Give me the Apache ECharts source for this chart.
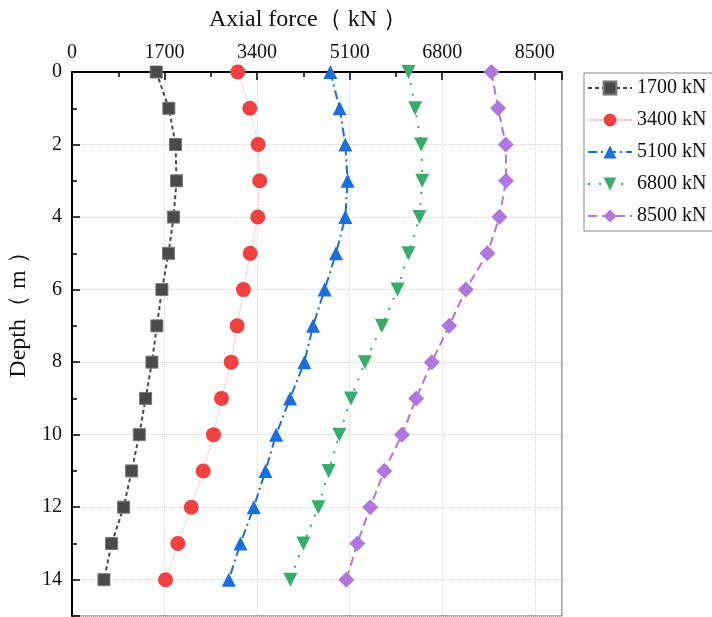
<!DOCTYPE html>
<html>
<head>
<meta charset="utf-8">
<script src="https://cdn.jsdelivr.net/npm/echarts@6/dist/echarts.min.js"></script>
<style>
  html, body { margin: 0; padding: 0; background: #fff; }
  #myChart { width: 712px; height: 617px; }
</style>
</head>
<body>
<div id="myChart"></div>
<script>
// 深度 (m)
const depth = [0, 1, 2, 3, 4, 5, 6, 7, 8, 9, 10, 11, 12, 13, 14];
// 各级荷载下的轴力 (kN)
const load1700 = [1548, 1779, 1902, 1920, 1865, 1773, 1651, 1559, 1468, 1352, 1236, 1095, 948, 728, 587];
const load3400 = [3045, 3265, 3418, 3448, 3412, 3272, 3149, 3033, 2923, 2745, 2599, 2410, 2190, 1944, 1718];
const load5100 = [4745, 4915, 5020, 5062, 5020, 4849, 4640, 4428, 4268, 4005, 3748, 3553, 3338, 3094, 2879];
const load6800 = [6181, 6304, 6414, 6432, 6383, 6181, 5979, 5693, 5381, 5124, 4910, 4713, 4525, 4250, 4011];
const load8500 = [7703, 7826, 7967, 7972, 7850, 7630, 7233, 6927, 6608, 6322, 6060, 5735, 5478, 5240, 5038];
const seriesNames = ['1700 kN', '3400 kN', '5100 kN', '6800 kN', '8500 kN'];
const xTicks = [0, 1700, 3400, 5100, 6800, 8500];

const FONT = '"Liberation Serif", "DejaVu Serif", serif';

const pairs = (vals) => vals.map((v, i) => [v, depth[i]]);

const myChart = echarts.init(document.getElementById('myChart'));

const axisCommon = {
  axisLine: { show: true, lineStyle: { color: '#000', width: 2 } },
  axisTick: { show: true, inside: true, length: 8, lineStyle: { color: '#000', width: 1.5 } },
  minorTick: { show: true, splitNumber: 2, length: 5, lineStyle: { color: '#000', width: 1.5 } },
  splitLine: { show: true, lineStyle: { type: 'dotted', color: '#d6d6d6', width: 1 } },
};

myChart.setOption({
  animation: false,
  backgroundColor: '#fff',
  grid: {
    left: 72,
    top: 72,
    right: 150,
    bottom: 1,
    outerBoundsMode: 'none',
    containLabel: false,
    show: true,
    borderColor: '#555',
    borderWidth: 1,
    backgroundColor: 'transparent',
  },
  legend: {
    orient: 'vertical',
    left: 584,
    top: 73,
    padding: [5, 12, 5, 3],
    itemWidth: 44,
    itemHeight: 16,
    itemGap: 12,
    borderColor: '#888',
    borderWidth: 1,
    textStyle: { fontFamily: FONT, fontSize: 20, color: '#111' },
    data: seriesNames,
  },
  xAxis: {
    ...axisCommon,
    type: 'value',
    position: 'top',
    min: 0,
    max: 9000,
    interval: 1700,
    name: 'Axial force（ kN ）',
    nameLocation: 'middle',
    nameGap: 40,
    nameTextStyle: { fontFamily: FONT, fontSize: 24, color: '#111', padding: [0, 18, 0, 0] },
    axisLabel: {
      fontFamily: FONT,
      fontSize: 20,
      color: '#111',
      margin: 9,
      formatter: (v) => (xTicks.includes(v) ? String(v) : ''),
    },
  },
  yAxis: {
    ...axisCommon,
    type: 'value',
    inverse: true,
    min: 0,
    max: 15,
    interval: 2,
    name: 'Depth（ m ）',
    nameLocation: 'middle',
    nameGap: 38,
    nameTextStyle: { fontFamily: FONT, fontSize: 24, color: '#111', padding: [0, 0, 0, 70] },
    axisLabel: {
      fontFamily: FONT,
      fontSize: 20,
      color: '#111',
      margin: 10,
      formatter: (v) => (v % 2 === 0 ? String(v) : ''),
    },
  },
  series: [
    {
      name: seriesNames[0],
      type: 'line',
      symbol: 'rect',
      symbolSize: 12,
      itemStyle: { color: '#4a4a4a', borderColor: '#777', borderWidth: 1 },
      lineStyle: { color: '#4a4a4a', width: 2, type: [4, 3] },
      data: pairs(load1700),
    },
    {
      name: seriesNames[1],
      type: 'line',
      symbol: 'circle',
      symbolSize: 15,
      itemStyle: { color: '#f14040' },
      lineStyle: { color: 'rgba(241,64,64,0.35)', width: 1, type: [2, 1] },
      data: pairs(load3400),
    },
    {
      name: seriesNames[2],
      type: 'line',
      symbol: 'triangle',
      symbolSize: 14,
      itemStyle: { color: '#1a6fdf' },
      lineStyle: { color: '#1a6fdf', width: 2, type: [9, 4, 2, 4] },
      data: pairs(load5100),
    },
    {
      name: seriesNames[3],
      type: 'line',
      symbol: 'triangle',
      symbolRotate: 180,
      symbolSize: 14,
      itemStyle: { color: '#37ad6b' },
      lineStyle: { color: '#37ad6b', width: 2, type: [2, 9] },
      data: pairs(load6800),
    },
    {
      name: seriesNames[4],
      type: 'line',
      symbol: 'diamond',
      symbolSize: 16,
      itemStyle: { color: '#b177de' },
      lineStyle: { color: '#b177de', width: 2, type: [9, 5] },
      data: pairs(load8500),
    },
  ],
});
</script>
</body>
</html>
